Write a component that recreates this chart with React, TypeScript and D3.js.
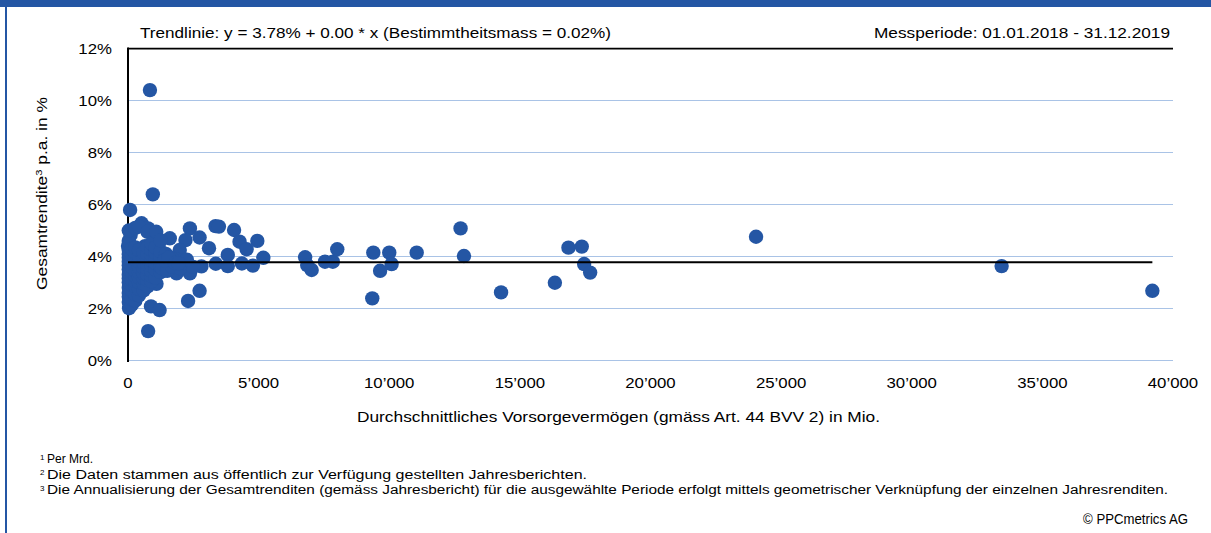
import React from "react";
import * as d3 from "d3";

// Durchschnittliches Vorsorgevermögen in Mio. (x) and Gesamtrendite p.a. in % (y)
const assetsMio: number[] = [
  840, 950, 80, 520, 770, 2370, 3350, 3480, 4060, 1600,
  2740, 2200, 4270, 4950, 4540, 3100, 1980, 5180, 3820, 2810,
  3360, 3820, 4360, 4780, 2370, 1860, 1090, 2300, 2740, 880,
  1210, 770, 40, 6780, 6860, 7030, 7540, 7840, 8010, 9390,
  9350, 9650, 10000, 10090, 11050, 12730, 12860, 14280, 16340, 16860,
  17370, 17460, 17690, 24040, 33440, 39210, 1020, 100, 0, 650,
  // dense cluster of smaller funds
  30, 30, 30, 30, 30, 30, 30, 30, 30, 30, 30, 30, 30, 30, 30,
  150, 150, 150, 150, 150, 150, 150, 150, 150, 150,
  280, 280, 280, 280, 280, 280, 280, 280, 280, 280, 280,
  420, 420, 420, 420, 420, 420, 420, 420, 420, 420,
  600, 600, 600, 600, 600, 600, 600, 600,
  750, 750, 750, 750, 750, 750, 750, 750, 750,
  900, 900, 900, 900, 900, 900, 900, 900,
  1050, 1050, 1050, 1050, 1050, 1050,
  1250, 1250, 1250, 1250, 1250,
  1450, 1450, 1450, 1450,
  1650, 1650, 1650,
  1850, 1850,
  1080, 1250, 1300, 1500, 1700, 2000, 2150, 2500, 1400, 1700,
  1550, 1800, 2250, 1930,
];

const returnsPct: number[] = [
  10.4, 6.39, 5.79, 5.28, 5.08, 5.08, 5.17, 5.15, 5.02, 4.7,
  4.73, 4.63, 4.57, 4.6, 4.28, 4.32, 4.25, 3.95, 4.06, 3.62,
  3.72, 3.63, 3.73, 3.65, 3.35, 3.35, 2.95, 2.29, 2.68, 2.08,
  1.94, 1.13, 2.01, 3.97, 3.67, 3.48, 3.8, 3.8, 4.28, 4.15,
  2.39, 3.45, 4.15, 3.71, 4.15, 5.08, 4.02, 2.62, 2.99, 4.34,
  4.38, 3.71, 3.38, 4.76, 3.63, 2.68, 4.57, 4.83, 4.4, 4.4,
  2.25, 2.45, 2.6, 2.8, 3.0, 3.15, 3.3, 3.5, 3.65, 3.8, 3.95, 4.1, 4.25, 4.6, 5.0,
  2.15, 2.35, 2.7, 2.9, 3.1, 3.4, 3.6, 3.85, 4.05, 4.3,
  2.3, 2.55, 2.85, 3.05, 3.25, 3.45, 3.7, 3.9, 4.15, 4.35, 5.1,
  2.5, 2.75, 3.0, 3.2, 3.4, 3.6, 3.8, 4.0, 4.25, 5.15,
  2.7, 2.95, 3.15, 3.35, 3.55, 3.75, 3.95, 4.15,
  2.85, 3.1, 3.3, 3.5, 3.7, 3.9, 4.1, 4.35, 4.95,
  3.05, 3.25, 3.45, 3.65, 3.85, 4.05, 4.25, 4.5,
  3.2, 3.5, 3.75, 3.95, 4.15, 4.35,
  3.4, 3.6, 3.8, 4.0, 4.2,
  3.5, 3.7, 3.9, 4.1,
  3.55, 3.75, 3.95,
  3.65, 3.9,
  4.95, 4.62, 3.55, 3.45, 3.6, 3.55, 3.75, 3.6, 3.85, 3.9,
  3.95, 3.75, 3.88, 3.74,
];

const xTicks: number[] = [0, 5000, 10000, 15000, 20000, 25000, 30000, 35000, 40000];
const yTicks: number[] = [0, 2, 4, 6, 8, 10, 12];

const trendIntercept = 3.78;
const trendSlope = 0.0;

const titleText = "Trendlinie: y = 3.78% + 0.00 * x (Bestimmtheitsmass = 0.02%)";
const periodText = "Messperiode: 01.01.2018 - 31.12.2019";
const xTitle = "Durchschnittliches Vorsorgevermögen (gmäss Art. 44 BVV 2) in  Mio.";
const footnoteMarks: string[] = ["1", "2", "3"];
const footnoteTexts: string[] = [
  "Per Mrd.",
  "Die Daten stammen aus öffentlich zur Verfügung gestellten Jahresberichten.",
  "Die Annualisierung der Gesamtrenditen (gemäss Jahresbericht) für die ausgewählte Periode erfolgt mittels geometrischer Verknüpfung der einzelnen Jahresrenditen.",
];
const footnoteWidths: (number | undefined)[] = [undefined, 540, 1121];
const copyright = "© PPCmetrics AG";

const W = 1211;
const H = 533;
const FONT = "'Liberation Sans', Arial, Helvetica, sans-serif";
const BLUE = "#2456A4";
const GRID = "#A9C3E6";

const fmtX = (v: number) => {
  if (v === 0) return "0";
  return d3.format(",")(v).replace(/,/g, "\u2019");
};

// approximate Arial advance widths for tick label strings, widened like the reference
const tickWidth = (s: string, fs: number) => {
  let w = 0;
  for (const ch of s) {
    if (ch === "%") w += 0.889;
    else if (ch === "\u2019") w += 0.222;
    else w += 0.556;
  }
  return w * fs * 1.12;
};

export default function App() {
  const x = d3.scaleLinear().domain([0, 40000]).range([128, 1173]);
  const y = d3.scaleLinear().domain([0, 12]).range([360.5, 48.5]);
  const points = assetsMio.map((a, i) => ({ a, r: returnsPct[i] }));
  const maxA = d3.max(assetsMio) as number;
  const trend = d3
    .line<number>()
    .x((d) => x(d))
    .y((d) => y(trendIntercept + trendSlope * d));

  return (
    <svg
      width={W}
      height={H}
      style={{ position: "absolute", left: 0, top: 0, background: "#fff" }}
      fontFamily={FONT}
    >
      <rect x={0} y={0} width={W} height={7} fill={BLUE} />
      <rect x={5} y={0} width={2} height={H} fill={BLUE} />

      {/* gridlines */}
      {yTicks.slice(0, -1).map((t) => (
        <line key={t} x1={128} x2={1173} y1={y(t)} y2={y(t)} stroke={GRID} strokeWidth={1} />
      ))}
      <line x1={128} x2={1173} y1={y(12)} y2={y(12)} stroke="#000" strokeWidth={1.75} />
      <line x1={128} x2={128} y1={y(12) - 1} y2={y(0) + 1.5} stroke="#000" strokeWidth={2} />

      {/* y tick labels */}
      {yTicks.map((t) => {
        const s = t + "%";
        return (
          <text key={t} x={112} y={y(t)} dy="0.35em" textAnchor="end" fontSize={15} fill="#000"
            textLength={tickWidth(s, 15)} lengthAdjust="spacingAndGlyphs">
            {s}
          </text>
        );
      })}
      {/* x tick labels */}
      {xTicks.map((t) => {
        const s = fmtX(t);
        return (
          <text key={t} x={x(t)} y={388} textAnchor="middle" fontSize={15} fill="#000"
            textLength={tickWidth(s, 15)} lengthAdjust="spacingAndGlyphs">
            {s}
          </text>
        );
      })}

      {/* points */}
      {points.map((p, i) => (
        <circle key={i} cx={x(p.a)} cy={y(p.r)} r={7.2} fill={BLUE} />
      ))}

      {/* trend line */}
      <path d={trend([0, maxA]) || ""} stroke="#000" strokeWidth={2} fill="none" />

      {/* titles */}
      <text x={140} y={38} fontSize={15} fill="#000" textLength={471} lengthAdjust="spacingAndGlyphs">
        {titleText}
      </text>
      <text x={1170} y={38} fontSize={15} textAnchor="end" fill="#000" textLength={296} lengthAdjust="spacingAndGlyphs">
        {periodText}
      </text>
      <text x={618.5} y={422} fontSize={15} textAnchor="middle" fill="#000" textLength={523} lengthAdjust="spacingAndGlyphs">
        {xTitle}
      </text>
      <text
        transform="translate(47,193.5) rotate(-90)"
        fontSize={15}
        textAnchor="middle"
        fill="#000"
        textLength={193}
        lengthAdjust="spacingAndGlyphs"
      >
        Gesamtrendite
        <tspan fontSize={9.5} dy={-5.5}>3</tspan>
        <tspan dy={5.5}> p.a. in %</tspan>
      </text>

      {/* footnotes */}
      {footnoteTexts.map((t, i) => (
        <g key={i}>
          <text x={40} y={459.5 + i * 15.5} fontSize={8} fill="#000">{footnoteMarks[i]}</text>
          <text x={47} y={463 + i * 15.5} fontSize={12} fill="#000"
            textLength={footnoteWidths[i]} lengthAdjust={footnoteWidths[i] ? "spacingAndGlyphs" : undefined}>
            {t}
          </text>
        </g>
      ))}
      <text x={1188} y={524} fontSize={14} textAnchor="end" fill="#000" textLength={105} lengthAdjust="spacingAndGlyphs">
        {copyright}
      </text>
    </svg>
  );
}
